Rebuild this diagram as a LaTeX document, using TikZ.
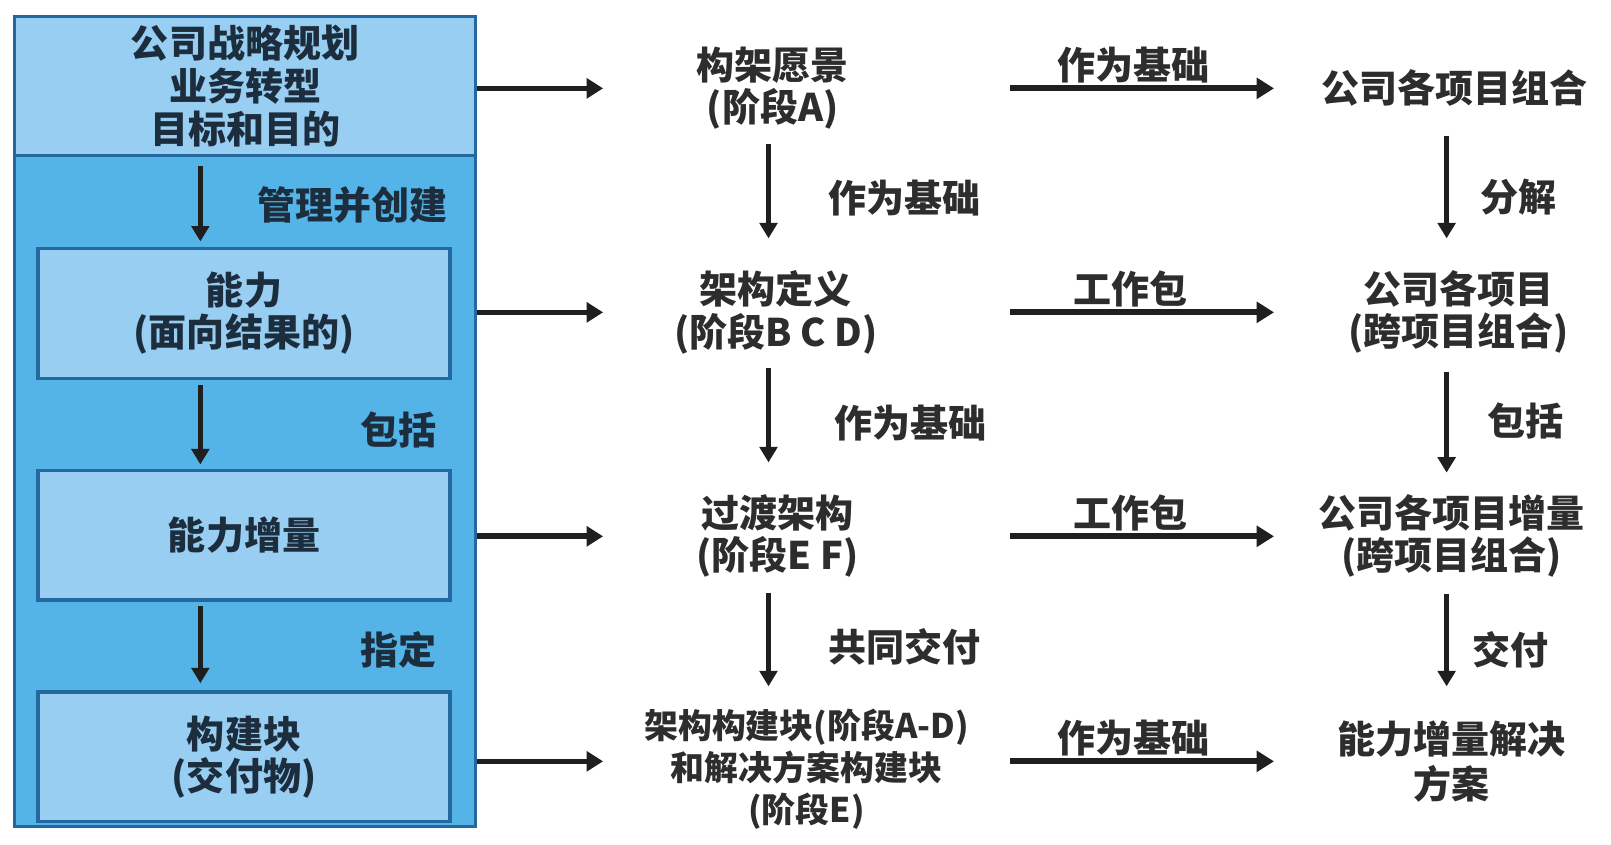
\documentclass[tikz,border=0pt]{standalone}
\usepackage{fontspec}
\setmainfont{Noto Sans CJK SC}
\usetikzlibrary{arrows.meta,calc}
\definecolor{paneblue}{RGB}{84,180,232}
\definecolor{lightblue}{RGB}{152,206,242}
\definecolor{edgeblue}{RGB}{35,105,160}
\definecolor{ink}{RGB}{45,45,45}
\definecolor{navyink}{RGB}{28,45,62}
\begin{document}
\begin{tikzpicture}[x=1pt,y=-1pt,
  every node/.style={inner sep=0pt, align=center},
  big/.style={font=\bfseries\fontsize{37}{41}\selectfont},
  small/.style={font=\bfseries\fontsize{33}{41}\selectfont},
  lefttext/.style={big, text=navyink},
  righttext/.style={big, text=ink},
  framebox/.style={draw=edgeblue, line width=3pt, fill=paneblue, anchor=north west},
  headbox/.style={draw=edgeblue, line width=3pt, fill=lightblue, anchor=north west,
    lefttext, font=\bfseries\fontsize{37}{42}\selectfont},
  innerbox/.style={draw=edgeblue, line width=3pt, fill=lightblue,
    minimum width=401pt, minimum height=126pt, lefttext},
  varrow/.style={draw=black!88, line width=5pt, -{Triangle[length=15pt,width=17pt]}},
  larrow/.style={draw=black!88, line width=5.5pt, -{Triangle[length=16pt,width=19pt]}},
  harrow/.style={draw=black!88, line width=6pt, -{Triangle[length=17pt,width=20pt]}},
  flowlabel/.style={righttext},
  panelabel/.style={lefttext}]
\useasboundingbox (0,0) rectangle (1568,822);

% column positions of the arrow ends
\coordinate (lx) at (195,0);
\coordinate (mi) at (587,0);
\coordinate (mx) at (748,0);
\coordinate (mo) at (983,0);
\coordinate (ri) at (1240,0);
\coordinate (rx) at (1408,0);

% left pane: strategy and its capability breakdown
\node[framebox, minimum width=448pt, minimum height=788pt] (frame) at (13,15) {};
\node[headbox, minimum width=448pt, minimum height=135pt] (head) at (13,15)
  {公司战略规划\\业务转型\\目标和目的};
\node[innerbox] (cap) at (237.5,305) {能力\\(面向结果的)};
\node[innerbox] (capinc) at (237.5,521) {能力增量};
\node[innerbox] (blocks) at (237.5,736.5) {构建块\\(交付物)};

\node[panelabel] (l1) at (343,200) {管理并创建};
\node[panelabel] (l2) at (388,418) {包括};
\node[panelabel] (l3) at (388,632) {指定};

\draw[varrow] ($(head.center -| lx)+(0,77.5)$) -- ($(cap.center -| lx)+(0,-70)$);
\draw[varrow] ($(cap.center -| lx)+(0,70)$) -- ($(capinc.center -| lx)+(0,-69)$);
\draw[varrow] ($(capinc.center -| lx)+(0,69)$) -- ($(blocks.center -| lx)+(0,-71.5)$);

% middle column: architecture phases
\node[righttext] (vis) at (752,86) {构架愿景\\(阶段A)};
\node[righttext] (def) at (755,304) {架构定义\\(阶段B C D)};
\node[righttext] (tra) at (757,522) {过渡架构\\(阶段E F)};
\node[small, text=ink] (bb) at (785,749) {架构构建块(阶段A-D)\\和解决方案构建块\\(阶段E)};

\node[flowlabel] (m1) at (880,193) {作为基础};
\node[flowlabel] (m2) at (886,412) {作为基础};
\node[flowlabel] (m3) at (880,630) {共同交付};

\draw[varrow] ($(vis.center -| mx)+(0,54)$) -- ($(def.center -| mx)+(0,-72)$);
\draw[varrow] ($(def.center -| mx)+(0,54)$) -- ($(tra.center -| mx)+(0,-72)$);
\draw[varrow] ($(tra.center -| mx)+(0,55)$) -- ($(bb.center -| mx)+(0,-81)$);

% right column: portfolio and projects
\node[righttext] (pf) at (1416,86) {公司各项目组合};
\node[righttext] (prj) at (1420,304) {公司各项目\\(跨项目组合)};
\node[righttext] (inc) at (1413,522) {公司各项目增量\\(跨项目组合)};
\node[righttext, font=\bfseries\fontsize{37}{44}\selectfont] (sol) at (1413,741) {能力增量解决\\方案};

\node[flowlabel] (r1) at (1478,192) {分解};
\node[flowlabel] (r2) at (1485,410) {包括};
\node[flowlabel] (r3) at (1470,632) {交付};

\draw[varrow] ($(pf.center -| rx)+(0,46)$) -- ($(prj.center -| rx)+(0,-72)$);
\draw[varrow] ($(prj.center -| rx)+(0,58)$) -- ($(inc.center -| rx)+(0,-62)$);
\draw[varrow] ($(inc.center -| rx)+(0,56)$) -- ($(sol.center -| rx)+(0,-73)$);

% links from the pane to the phases
\draw[larrow] (frame.east |- vis) -- (mi |- vis);
\draw[larrow] (frame.east |- def) -- (mi |- def);
\draw[larrow] (frame.east |- tra) -- (mi |- tra);
\draw[larrow] (frame.east |- sol) -- (mi |- sol);

% links from the phases to the portfolio
\draw[harrow] (mo |- vis) -- (ri |- pf)
  node[midway, above=2pt, xshift=-8pt, flowlabel] (h1) {作为基础};
\draw[harrow] (mo |- def) -- (ri |- prj)
  node[midway, above=2pt, xshift=-11pt, flowlabel] (h2) {工作包};
\draw[harrow] (mo |- tra) -- (ri |- inc)
  node[midway, above=2pt, xshift=-11pt, flowlabel] (h3) {工作包};
\draw[harrow] (mo |- sol) -- (ri |- sol)
  node[midway, above=2pt, xshift=-8pt, flowlabel] (h4) {作为基础};
\end{tikzpicture}
\end{document}
